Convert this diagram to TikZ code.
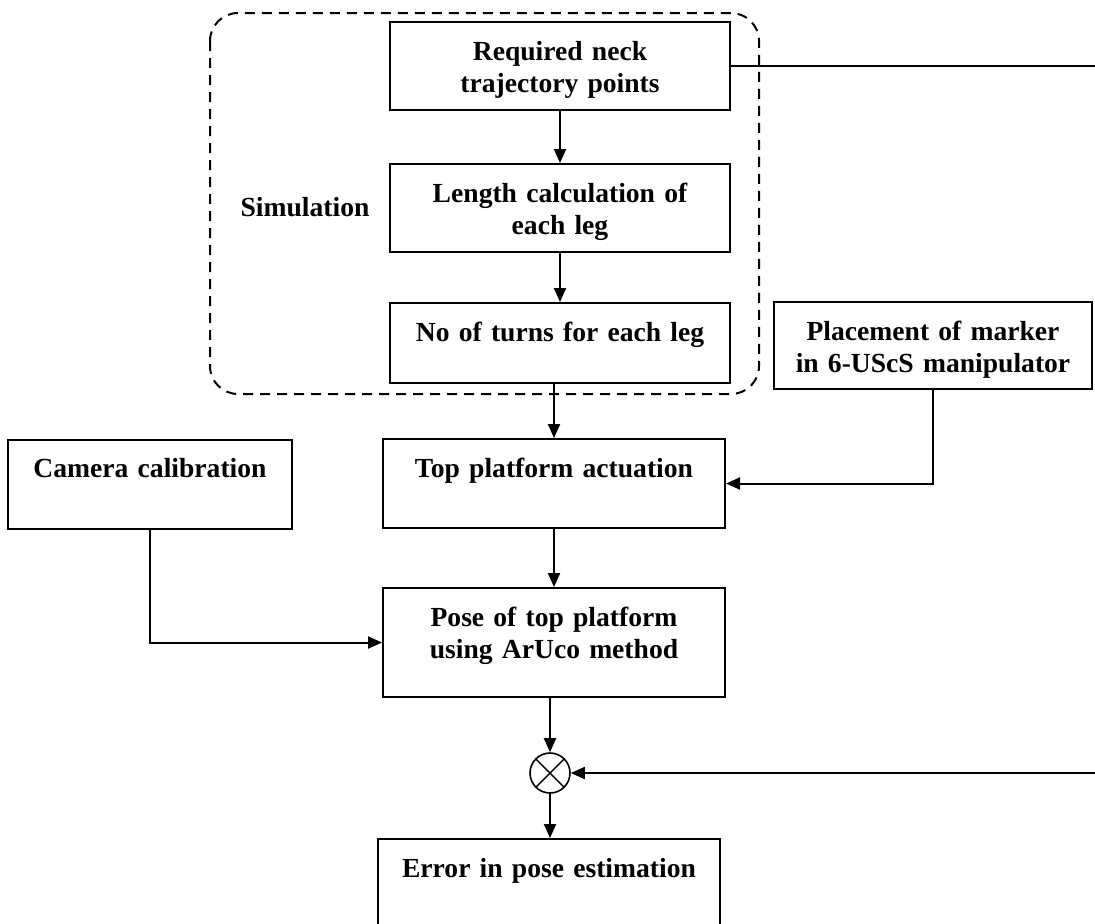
\documentclass[tikz,border=0pt]{standalone}
\usepackage{fontspec}
\setmainfont{Liberation Serif}
\usetikzlibrary{arrows.meta,positioning,calc}
\begin{document}
\begin{tikzpicture}[x=0.5pt,y=-0.5pt,
    box/.style={draw,line width=1pt,inner xsep=0pt,align=center,font=\bfseries\fontsize{13.8}{16}\selectfont},
    midbox/.style={box,text height=13.5pt},
    topbox/.style={box,inner ysep=0pt,text height=19pt,text depth=#1},
    arr/.style={-{Triangle[length=7pt,width=6pt]},line width=1pt},
    simbox/.style={draw,dash pattern=on 5pt off 3.5pt,line width=1pt,rounded corners=14pt},
    sumnode/.style={draw,circle,line width=0.8pt,minimum size=20pt,inner sep=0pt}
  ]
    \useasboundingbox (0,0) rectangle (1095,923);
    % simulation part
    \draw[simbox] (210,13) rectangle (759,394);
    \node[font=\bfseries\fontsize{13.8}{16}\selectfont] (simlbl) at (305,207) {Simulation};
    \node[midbox,text width=170pt,minimum height=44pt] (req) at (560,66) {Required neck\\trajectory points};
    \node[midbox,text width=170pt,minimum height=44pt] (len) at (560,208) {Length calculation of\\each leg};
    \node[topbox=21pt,text width=170pt] (turns) at (560,343) {No of turns for each leg};
    % experiment
    \node[midbox,text width=159pt,minimum height=43.5pt] (place) at (933,345.5) {Placement of marker\\in 6-UScS manipulator};
    \node[topbox=25.5pt,text width=142pt] (cam) at (150,484) {Camera calibration};
    \node[topbox=25.5pt,text width=171pt] (top) at (554,483.5) {Top platform actuation};
    \node[topbox=35.5pt,text width=171pt] (pose) at (554,642.5) {Pose of top platform\\using ArUco method};
    \node[sumnode] (sum) at (550,773) {};
    \draw[line width=0.7pt] (sum.north east) -- (sum.south west) (sum.north west) -- (sum.south east);
    \node[topbox=38pt,text width=171pt,anchor=north] (err) at (549,838) {Error in pose estimation};
    \coordinate (fbx) at (1102,66);
    % connectors
    \draw[arr] (req) -- (len);
    \draw[arr] (len) -- (turns);
    \draw[arr] (turns.south -| top) -- (top);
    \draw[arr] (top) -- (pose);
    \draw[arr] (pose.south -| sum) -- (sum);
    \draw[arr] (sum) -- (sum |- err.north);
    \draw[arr] (cam.south) |- (pose.west);
    \draw[arr] (place.south) |- (top.east);
    \draw[arr] (req.east) -- (req.east -| fbx) |- (sum.east);
  \end{tikzpicture}
\end{document}
